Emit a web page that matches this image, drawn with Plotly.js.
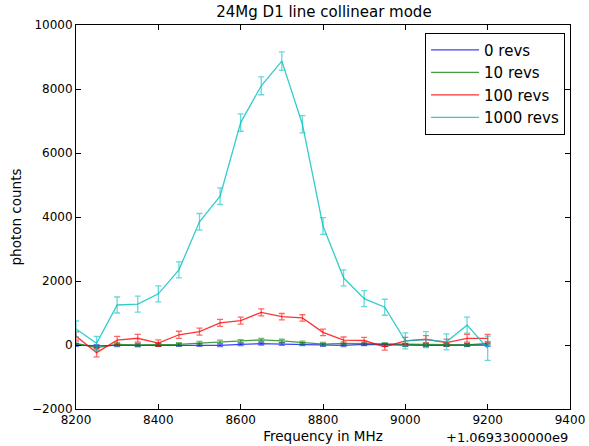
<!DOCTYPE html>
<html>
<head>
<meta charset="utf-8">
<script src="https://cdn.plot.ly/plotly-3.0.1.min.js"></script>
<style>html,body{margin:0;padding:0;background:#fff;}#chart{width:589px;height:446px;}</style>
</head>
<body>
<div id="chart"></div>
<script>
// Frequency offsets in MHz (relative to +1.0693300000e9)
const freq = [8200,8250,8300,8350,8400,8450,8500,8550,8600,8650,8700,8750,8800,8850,8900,8950,9000,9050,9100,9150,9200];
const seriesNames = ["0 revs","10 revs","100 revs","1000 revs"];
const revs0 = [0,-30,-10,-10,0,0,0,-10,20,40,30,20,0,-10,20,0,0,-10,0,0,0];
const revs0Err = [40,40,40,40,40,40,40,40,40,40,40,40,40,40,40,40,40,40,40,40,40];
const revs10 = [50,-80,20,0,10,20,60,100,120,160,130,70,30,50,40,20,10,0,10,0,50];
const revs10Err = [50,50,50,50,50,50,50,50,50,50,50,50,50,50,50,50,50,50,50,50,50];
const revs100 = [280,-240,150,210,60,320,420,690,760,1020,885,845,395,150,140,-60,130,180,75,210,210];
const revs100Err = [130,130,120,120,100,110,110,110,110,110,100,100,100,100,100,100,110,110,110,120,120];
const revs1000 = [500,50,1250,1280,1600,2350,3850,4650,6950,8100,8870,6900,3720,2100,1450,1180,130,170,100,620,-100];
const revs1000Err = [250,220,250,250,250,250,260,260,270,280,290,270,260,250,250,250,250,250,250,250,380];
const colors = ["rgba(0,0,255,0.75)","rgba(0,128,0,0.75)","rgba(255,0,0,0.8)","rgba(0,191,191,0.8)"];
const errColors = ["rgba(0,0,255,0.55)","rgba(0,128,0,0.55)","rgba(255,0,0,0.6)","rgba(0,191,191,0.6)"];

const ys = [revs0, revs10, revs100, revs1000];
const errs = [revs0Err, revs10Err, revs100Err, revs1000Err];
const traces = ys.map((y, i) => ({
  type: "scatter",
  mode: "lines",
  x: freq,
  y: y,
  name: seriesNames[i],
  line: {color: colors[i], width: 1.3},
  error_y: {type: "data", array: errs[i], visible: true, color: errColors[i], thickness: 1.3, width: 3}
}));

const font = "DejaVu Sans, sans-serif";
const layout = {
  width: 589, height: 446,
  margin: {l: 76, r: 19, t: 25, b: 37},
  paper_bgcolor: "#fff", plot_bgcolor: "#fff",
  font: {family: font, size: 13, color: "#000"},
  title: {text: "24Mg D1 line collinear mode", font: {family: font, size: 15, color: "#000"}, x: 0.55, xanchor: "center", y: 0.985, yanchor: "top"},
  showlegend: true,
  legend: {x: 0.99, xanchor: "right", y: 0.98, yanchor: "top", bordercolor: "#000", borderwidth: 1, bgcolor: "#fff", font: {family: font, size: 15}, tracegroupgap: 0, itemwidth: 48},
  xaxis: {
    range: [8200, 9400], tickvals: [8200,8400,8600,8800,9000,9200,9400],
    ticks: "inside", ticklen: 5, tickcolor: "#000", mirror: "ticks",
    showline: true, linecolor: "#000", linewidth: 1, showgrid: false, zeroline: false,
    tickfont: {family: font, size: 12},
    title: {text: "Frequency in MHz", font: {family: font, size: 13.5}, standoff: 5}
  },
  yaxis: {
    range: [-2000, 10000], tickvals: [-2000,0,2000,4000,6000,8000,10000],
    ticktext: ["\u22122000","0","2000","4000","6000","8000","10000"],
    ticks: "inside", ticklen: 5, tickcolor: "#000", mirror: "ticks",
    showline: true, linecolor: "#000", linewidth: 1, showgrid: false, zeroline: false,
    tickfont: {family: font, size: 12},
    title: {text: "photon counts", font: {family: font, size: 13.5}, standoff: 7}
  },
  annotations: [{
    text: "+1.0693300000e9", xref: "paper", yref: "paper", x: 1, y: 0, xanchor: "right", yanchor: "top",
    yshift: -19, showarrow: false, font: {family: font, size: 13, color: "#000"}
  }]
};
Plotly.newPlot("chart", traces, layout, {displayModeBar: false, staticPlot: true});
</script>
</body>
</html>
